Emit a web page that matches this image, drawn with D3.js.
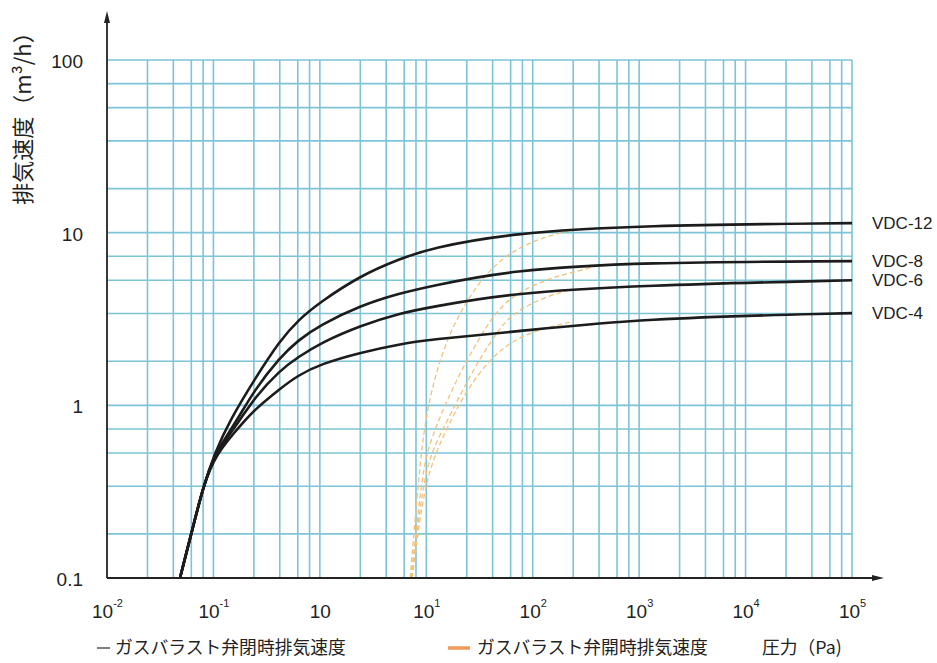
<!DOCTYPE html>
<html><head><meta charset="utf-8">
<script src="https://cdn.jsdelivr.net/npm/d3@7"></script>
<style>body{margin:0;background:#fff} svg{display:block}</style>
</head><body>
<svg id="c" width="937" height="663"></svg>
<script>
// ---- data ----
const xTickValues = [1e-2, 1e-1, 1, 10, 100, 1000, 1e4, 1e5];
const xTickBase = ["10", "10", "10", "10", "10", "10", "10", "10"];
const xTickSup = ["-2", "-1", "", "1", "2", "3", "4", "5"];
const yTickValues = [0.1, 1, 10, 100];
const yTickLabels = ["0.1", "1", "10", "100"];
const xGridDecades = [1e-2, 1e-1, 1, 10, 100, 1000, 1e4];
const xGridSteps = [2.4, 4.2, 6.2, 8.0, 10];
const yGridDecades = [0.1, 1, 10];
const yGridSteps = [1.8, 3.4, 5.3, 7.3, 10];
const seriesNames = ["VDC-12", "VDC-8", "VDC-6", "VDC-4"];

// gas ballast valve closed (black solid) : [pressure Pa, speed m3/h]
const closedVDC12 = [[0.0485,0.1],[0.063,0.188],[0.0798,0.335],[0.1035,0.535],[0.143,0.819],[0.241,1.40],[0.423,2.38],[0.624,3.11],[1.0,3.95],[2.44,5.67],[5.67,7.05],[10.9,8.13],[61.4,9.93],[1021,11.05],[1e5,11.35]];
const closedVDC8  = [[0.0485,0.1],[0.063,0.188],[0.0798,0.335],[0.1035,0.53],[0.167,0.819],[0.241,1.22],[0.423,1.90],[0.624,2.38],[1.0,2.91],[2.44,3.80],[5.67,4.46],[10.9,4.90],[61.4,6.06],[1021,6.74],[1e5,6.84]];
const closedVDC6  = [[0.0485,0.1],[0.063,0.188],[0.0798,0.335],[0.1035,0.525],[0.178,0.819],[0.241,1.10],[0.423,1.60],[0.624,1.90],[1.0,2.29],[2.44,2.91],[5.67,3.42],[10.9,3.70],[61.4,4.46],[1021,4.96],[1e5,5.30]];
const closedVDC4  = [[0.0485,0.1],[0.063,0.188],[0.0798,0.335],[0.1035,0.52],[0.198,0.819],[0.241,0.935],[0.423,1.25],[0.624,1.49],[1.0,1.73],[2.44,2.03],[5.67,2.26],[10.9,2.41],[61.4,2.65],[1021,3.19],[1e5,3.42]];

// gas ballast valve open (orange dashed)
const openVDC12 = [[7.05,0.1],[7.68,0.188],[8.38,0.335],[8.94,0.527],[10.4,1.04],[14.4,2.14],[20.8,3.46],[30,4.96],[46.3,6.74],[76.2,8.24],[125,9.42],[250,10.5]];
const openVDC8  = [[7.2,0.1],[8.02,0.188],[8.94,0.335],[9.96,0.527],[13.5,0.875],[20.8,1.55],[30,2.32],[42.5,3.32],[61.4,4.17],[88.6,4.77],[146,5.45],[240,5.9],[430,6.48]];
const openVDC6  = [[7.2,0.1],[8.2,0.188],[9.33,0.335],[10.9,0.527],[16.7,0.875],[25.8,1.49],[39.8,2.32],[57.4,3.19],[88.6,3.8],[146,4.34],[235,4.7]];
const openVDC4  = [[7.36,0.1],[8.38,0.188],[9.75,0.335],[12.1,0.527],[17.9,0.875],[25.8,1.31],[42.5,1.95],[71.3,2.45],[125,2.79],[225,3.03]];

const legendClosed = "ガスバラスト弁閉時排気速度";
const legendOpen = "ガスバラスト弁開時排気速度";
const xTitle = "圧力（Pa)";
const yTitle = "排気速度（m³/h）";

// ---- drawing ----
const svg = d3.select("#c");
const FONT = "'Liberation Sans', Arial, 'Noto Sans CJK JP', sans-serif";
const JFONT = "'Noto Sans CJK JP', 'Liberation Sans', sans-serif";
const x = d3.scaleLog().domain([1e-2, 1e5]).range([107, 852]);
const y = d3.scaleLog().domain([0.1, 100]).range([578, 60]);
const gridColor = "#7cc4d6";

const g = svg.append("g");
// vertical grid
const xGrid = [];
xGridDecades.forEach(d => xGridSteps.forEach(s => xGrid.push(d * s)));
g.append("g").selectAll("line").data(xGrid).join("line")
  .attr("x1", d => x(d)).attr("x2", d => x(d))
  .attr("y1", y(0.1)).attr("y2", y(100))
  .attr("stroke", gridColor).attr("stroke-width", 1.6);
// horizontal grid
const yGrid = [];
yGridDecades.forEach(d => yGridSteps.forEach(s => yGrid.push(d * s)));
g.append("g").selectAll("line").data(yGrid).join("line")
  .attr("x1", x(1e-2)).attr("x2", x(1e5))
  .attr("y1", d => y(d)).attr("y2", d => y(d))
  .attr("stroke", gridColor).attr("stroke-width", 1.6);

// curves
const line = d3.line().x(d => x(d[0])).y(d => y(d[1])).curve(d3.curveBasis);
const openSeries = [openVDC12, openVDC8, openVDC6, openVDC4];
const closedSeries = [closedVDC12, closedVDC8, closedVDC6, closedVDC4];
g.append("g").selectAll("path").data(openSeries).join("path")
  .attr("d", line).attr("fill", "none")
  .attr("stroke", "#f0c27e").attr("stroke-width", 1.3)
  .attr("stroke-dasharray", "5,3");
g.append("g").selectAll("path").data(closedSeries).join("path")
  .attr("d", line).attr("fill", "none")
  .attr("stroke", "#1c1c1c").attr("stroke-width", 2.6);

// series labels
g.append("g").selectAll("text").data(closedSeries).join("text")
  .attr("x", x(1e5) + 20).attr("y", d => y(d[d.length - 1][1]))
  .attr("dy", "0.36em")
  .attr("font-family", FONT).attr("font-size", 17).attr("fill", "#222")
  .text((d, i) => seriesNames[i]);

// axes
const xAxis = d3.axisBottom(x).tickValues(xTickValues).tickSize(0).tickFormat(() => "");
const gx = svg.append("g").attr("transform", `translate(0,${y(0.1)})`).call(xAxis);
gx.select(".domain").remove();
gx.selectAll(".tick text").each(function (d, i) {
  const t = d3.select(this);
  t.attr("dy", null).attr("y", 40).attr("font-family", FONT).attr("font-size", 19).attr("fill", "#222");
  t.append("tspan").text(xTickBase[i]);
  if (xTickSup[i]) t.append("tspan").attr("font-size", 11).attr("dy", -11).text(xTickSup[i]);
});

const yAxis = d3.axisLeft(y).tickValues(yTickValues).tickSize(0).tickPadding(24)
  .tickFormat((d, i) => yTickLabels[i]);
const gy = svg.append("g").attr("transform", `translate(${x(1e-2)},0)`).call(yAxis);
gy.select(".domain").remove();
gy.selectAll(".tick text").attr("dy", "0.4em").attr("font-family", FONT).attr("font-size", 19).attr("fill", "#222");

// axis lines with arrows
const x0 = x(1e-2), y0 = y(0.1);
svg.append("line").attr("x1", x0).attr("x2", x0).attr("y1", y0).attr("y2", 16)
  .attr("stroke", "#222").attr("stroke-width", 1.8);
svg.append("path").attr("d", `M${x0},11 L${x0 - 3},23 L${x0 + 3},23 Z`).attr("fill", "#222");
svg.append("line").attr("x1", x0).attr("x2", 878).attr("y1", y0).attr("y2", y0)
  .attr("stroke", "#222").attr("stroke-width", 1.8);
svg.append("path").attr("d", `M884,${y0} L872,${y0 - 3} L872,${y0 + 3} Z`).attr("fill", "#222");

// y title
svg.append("text").attr("transform", "translate(31,113) rotate(-90)")
  .attr("text-anchor", "middle").attr("font-family", JFONT).attr("font-size", 22).attr("fill", "#222")
  .text(yTitle);

// legend
const ly = 648;
svg.append("line").attr("x1", 97).attr("x2", 110).attr("y1", ly).attr("y2", ly)
  .attr("stroke", "#555").attr("stroke-width", 1.5);
svg.append("text").attr("x", 115).attr("y", ly).attr("dy", "0.36em")
  .attr("font-family", JFONT).attr("font-size", 17.8).attr("fill", "#222").text(legendClosed);
svg.append("line").attr("x1", 448).attr("x2", 470).attr("y1", ly).attr("y2", ly)
  .attr("stroke", "#ee9b5a").attr("stroke-width", 3.5);
svg.append("text").attr("x", 477).attr("y", ly).attr("dy", "0.36em")
  .attr("font-family", JFONT).attr("font-size", 17.8).attr("fill", "#222").text(legendOpen);
svg.append("text").attr("x", 762).attr("y", ly).attr("dy", "0.36em")
  .attr("font-family", JFONT).attr("font-size", 17.8).attr("fill", "#222").text(xTitle);
</script>
</body></html>
